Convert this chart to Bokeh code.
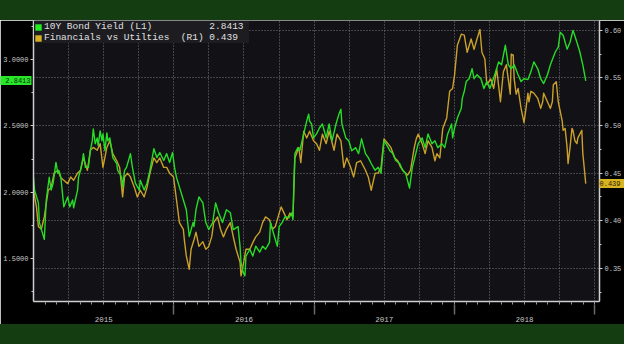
from bokeh.plotting import figure
from bokeh.layouts import column
from bokeh.models import (Range1d, LinearAxis, FixedTicker, NumeralTickFormatter, Div,
                          CustomJSTickFormatter, Grid, Legend, LegendItem)
from bokeh.embed import file_html
from bokeh.resources import INLINE

# ---------------- data (decimal-year dates) ----------------
yield_dates = [
    2015.000, 2015.007, 2015.035, 2015.042, 2015.077, 2015.091, 2015.112, 2015.126, 2015.140, 2015.160,
    2015.174, 2015.181, 2015.195, 2015.209, 2015.216, 2015.244, 2015.258, 2015.279, 2015.286, 2015.314,
    2015.321, 2015.335, 2015.349, 2015.356, 2015.370, 2015.391, 2015.405, 2015.419, 2015.426, 2015.440,
    2015.454, 2015.461, 2015.475, 2015.488, 2015.495, 2015.509, 2015.523, 2015.530, 2015.544, 2015.558,
    2015.565, 2015.593, 2015.600, 2015.614, 2015.628, 2015.635, 2015.649, 2015.663, 2015.691, 2015.705,
    2015.726, 2015.754, 2015.761, 2015.789, 2015.809, 2015.830, 2015.858, 2015.879, 2015.900, 2015.928,
    2015.949, 2015.970, 2015.991, 2016.005, 2016.019, 2016.040, 2016.068, 2016.089, 2016.110, 2016.137,
    2016.144, 2016.158, 2016.179, 2016.207, 2016.228, 2016.249, 2016.277, 2016.298, 2016.319, 2016.347,
    2016.375, 2016.403, 2016.424, 2016.458, 2016.472, 2016.479, 2016.493, 2016.507, 2016.514, 2016.542,
    2016.563, 2016.584, 2016.612, 2016.633, 2016.654, 2016.682, 2016.689, 2016.717, 2016.738, 2016.751,
    2016.772, 2016.793, 2016.821, 2016.842, 2016.849, 2016.856, 2016.863, 2016.884, 2016.898, 2016.926,
    2016.947, 2016.961, 2016.968, 2016.982, 2016.996, 2017.017, 2017.038, 2017.059, 2017.086, 2017.107,
    2017.128, 2017.156, 2017.177, 2017.191, 2017.198, 2017.226, 2017.247, 2017.268, 2017.296, 2017.317,
    2017.338, 2017.366, 2017.386, 2017.407, 2017.435, 2017.456, 2017.477, 2017.498, 2017.512, 2017.540,
    2017.561, 2017.582, 2017.610, 2017.631, 2017.652, 2017.680, 2017.700, 2017.721, 2017.742, 2017.770,
    2017.791, 2017.812, 2017.840, 2017.861, 2017.882, 2017.910, 2017.931, 2017.952, 2017.980, 2017.987,
    2018.001, 2018.021, 2018.049, 2018.056, 2018.070, 2018.084, 2018.105, 2018.126, 2018.140, 2018.161,
    2018.189, 2018.210, 2018.231, 2018.252, 2018.266, 2018.294, 2018.315, 2018.336, 2018.363, 2018.384,
    2018.405, 2018.426, 2018.454, 2018.475, 2018.496, 2018.524, 2018.545, 2018.566, 2018.594, 2018.615,
    2018.636, 2018.663, 2018.684, 2018.719, 2018.740, 2018.754, 2018.775, 2018.803, 2018.824, 2018.845,
    2018.873, 2018.894, 2018.915, 2018.936,
]
yield_values = [
    2.112, 2.015, 1.918, 1.769, 1.642, 1.940, 2.112, 2.015, 2.067, 2.224,
    2.142, 2.164, 2.112, 1.963, 1.888, 1.963, 1.888, 1.940, 1.881, 2.015,
    2.112, 2.164, 2.239, 2.291, 2.187, 2.187, 2.313, 2.388, 2.478, 2.366,
    2.410, 2.351, 2.463, 2.388, 2.440, 2.313, 2.448, 2.388, 2.410, 2.313,
    2.261, 2.216, 2.164, 2.142, 2.112, 2.037, 2.164, 2.187, 2.291, 2.187,
    2.067, 2.015, 2.090, 2.015, 2.067, 2.164, 2.328, 2.261, 2.299, 2.239,
    2.291, 2.224, 2.299, 2.187, 2.112, 2.037, 1.940, 1.866, 1.664, 1.769,
    1.739, 1.866, 1.963, 1.918, 1.769, 1.716, 1.769, 1.918, 1.843, 1.769,
    1.866, 1.843, 1.716, 1.739, 1.590, 1.470, 1.396, 1.366, 1.515, 1.567,
    1.515, 1.590, 1.545, 1.590, 1.567, 1.619, 1.769, 1.664, 1.590, 1.739,
    1.769, 1.813, 1.806, 1.843, 1.791, 2.067, 2.291, 2.336, 2.313, 2.440,
    2.537, 2.590, 2.537, 2.515, 2.410, 2.440, 2.485, 2.515, 2.410, 2.515,
    2.388, 2.515, 2.590, 2.627, 2.515, 2.410, 2.388, 2.313, 2.336, 2.291,
    2.403, 2.291, 2.261, 2.216, 2.164, 2.187, 2.142, 2.388, 2.366, 2.313,
    2.291, 2.239, 2.216, 2.164, 2.142, 2.030, 2.187, 2.276, 2.366, 2.410,
    2.336, 2.440, 2.366, 2.388, 2.336, 2.366, 2.336, 2.440, 2.515, 2.410,
    2.485, 2.560, 2.634, 2.709, 2.761, 2.836, 2.858, 2.933, 2.858, 2.888,
    2.858, 2.784, 2.836, 2.784, 2.821, 2.910, 2.985, 2.963, 3.112, 2.963,
    2.933, 2.963, 2.888, 2.836, 2.858, 2.851, 2.910, 2.985, 2.933, 2.858,
    2.821, 2.888, 2.963, 3.060, 3.097, 3.209, 3.187, 3.082, 3.134, 3.224,
    3.134, 3.060, 2.963, 2.8413,
]

ratio_dates = [
    2015.000, 2015.021, 2015.035, 2015.056, 2015.077, 2015.105, 2015.126, 2015.147, 2015.174, 2015.195,
    2015.216, 2015.244, 2015.265, 2015.286, 2015.314, 2015.335, 2015.356, 2015.384, 2015.405, 2015.426,
    2015.454, 2015.475, 2015.495, 2015.523, 2015.544, 2015.565, 2015.593, 2015.614, 2015.635, 2015.649,
    2015.670, 2015.691, 2015.719, 2015.740, 2015.761, 2015.789, 2015.809, 2015.830, 2015.858, 2015.879,
    2015.900, 2015.928, 2015.949, 2015.970, 2015.998, 2016.019, 2016.040, 2016.068, 2016.075, 2016.089,
    2016.110, 2016.123, 2016.144, 2016.158, 2016.179, 2016.207, 2016.228, 2016.249, 2016.270, 2016.284,
    2016.312, 2016.333, 2016.354, 2016.375, 2016.403, 2016.424, 2016.444, 2016.472, 2016.479, 2016.493,
    2016.514, 2016.542, 2016.563, 2016.584, 2016.612, 2016.633, 2016.654, 2016.682, 2016.703, 2016.724,
    2016.751, 2016.765, 2016.786, 2016.807, 2016.828, 2016.849, 2016.863, 2016.891, 2016.905, 2016.926,
    2016.947, 2016.968, 2016.996, 2017.017, 2017.038, 2017.059, 2017.086, 2017.107, 2017.142, 2017.163,
    2017.191, 2017.212, 2017.233, 2017.261, 2017.282, 2017.303, 2017.331, 2017.366, 2017.386, 2017.407,
    2017.435, 2017.456, 2017.477, 2017.498, 2017.526, 2017.547, 2017.575, 2017.596, 2017.617, 2017.645,
    2017.666, 2017.687, 2017.714, 2017.728, 2017.742, 2017.770, 2017.791, 2017.812, 2017.840, 2017.861,
    2017.875, 2017.896, 2017.917, 2017.945, 2017.966, 2017.987, 2018.001, 2018.021, 2018.049, 2018.070,
    2018.091, 2018.119, 2018.140, 2018.161, 2018.182, 2018.196, 2018.217, 2018.231, 2018.259, 2018.280,
    2018.301, 2018.328, 2018.349, 2018.370, 2018.398, 2018.405, 2018.419, 2018.426, 2018.440, 2018.454,
    2018.475, 2018.489, 2018.496, 2018.510, 2018.524, 2018.531, 2018.545, 2018.566, 2018.594, 2018.615,
    2018.629, 2018.636, 2018.663, 2018.684, 2018.698, 2018.705, 2018.726, 2018.740, 2018.768, 2018.775,
    2018.789, 2018.803, 2018.810, 2018.824, 2018.838, 2018.845, 2018.859, 2018.873, 2018.880, 2018.894,
    2018.908, 2018.915, 2018.936,
]
ratio_values = [
    0.432, 0.4145, 0.394, 0.391, 0.404, 0.432, 0.435, 0.450, 0.453, 0.445,
    0.4425, 0.439, 0.446, 0.4425, 0.450, 0.453, 0.466, 0.453, 0.474, 0.477,
    0.474, 0.481, 0.456, 0.477, 0.484, 0.4705, 0.463, 0.456, 0.425, 0.446,
    0.450, 0.446, 0.435, 0.425, 0.432, 0.425, 0.435, 0.450, 0.466, 0.461,
    0.466, 0.456, 0.456, 0.450, 0.446, 0.422, 0.398, 0.391, 0.380, 0.363,
    0.349, 0.370, 0.380, 0.388, 0.373, 0.378, 0.370, 0.373, 0.383, 0.398,
    0.404, 0.391, 0.383, 0.391, 0.398, 0.383, 0.370, 0.3565, 0.342, 0.352,
    0.370, 0.370, 0.377, 0.383, 0.388, 0.398, 0.404, 0.401, 0.391, 0.394,
    0.408, 0.4145, 0.408, 0.401, 0.408, 0.404, 0.466, 0.477, 0.461, 0.494,
    0.487, 0.494, 0.484, 0.481, 0.474, 0.491, 0.481, 0.494, 0.474, 0.491,
    0.484, 0.456, 0.466, 0.456, 0.446, 0.461, 0.463, 0.453, 0.446, 0.432,
    0.450, 0.450, 0.456, 0.486, 0.481, 0.477, 0.466, 0.463, 0.456, 0.451,
    0.448, 0.453, 0.477, 0.486, 0.491, 0.481, 0.4705, 0.484, 0.477, 0.463,
    0.4705, 0.466, 0.497, 0.508, 0.536, 0.539, 0.553, 0.5845, 0.596, 0.595,
    0.577, 0.591, 0.580, 0.591, 0.601, 0.577, 0.570, 0.543, 0.549, 0.539,
    0.560, 0.525, 0.5565, 0.564, 0.533, 0.575, 0.574, 0.549, 0.533, 0.539,
    0.518, 0.508, 0.503, 0.518, 0.534, 0.525, 0.536, 0.534, 0.5285, 0.518,
    0.525, 0.534, 0.525, 0.518, 0.525, 0.543, 0.546, 0.525, 0.505, 0.495,
    0.497, 0.477, 0.460, 0.477, 0.497, 0.495, 0.484, 0.481, 0.487, 0.491,
    0.495, 0.471, 0.439,
]

year_labels = ["2015", "2016", "2017", "2018"]
year_starts = [2015, 2016, 2017, 2018, 2019]
left_ticks = [1.5, 2.0, 2.5, 3.0]
left_minor = [1.25, 1.75, 2.25, 2.75, 3.25]
right_ticks = [0.35, 0.40, 0.45, 0.50, 0.55, 0.60]
right_minor = [0.325, 0.375, 0.425, 0.475, 0.525, 0.575]

GREEN = "#26dc26"
GOLD = "#caa12a"
AXIS = "#cfcfcf"
LABEL = "#c8c8c8"
BANNER = "#143d12"
MONO = "Liberation Mono"

# ---------------- figure ----------------
xr = Range1d(2015.0, 2019.034)
p = figure(width=624, height=304, output_backend="svg", toolbar_location=None,
           x_axis_type=None, y_axis_type=None,
           x_range=xr, y_range=Range1d(1.1716, 3.2985),
           min_border_left=31, min_border_right=24, min_border_top=0, min_border_bottom=19,
           background_fill_color="#111116", border_fill_color="black")
p.outline_line_color = None
p.extra_y_ranges = {"right": Range1d(0.3151, 0.6104)}


def style_y(ax, size="7px"):
    ax.axis_line_color = AXIS
    ax.axis_line_width = 1.5
    ax.major_tick_line_color = AXIS
    ax.minor_tick_line_color = AXIS
    ax.major_tick_out = 3
    ax.major_tick_in = 0
    ax.minor_tick_out = 2
    ax.minor_tick_in = 0
    ax.major_label_text_font = MONO
    ax.major_label_text_font_size = size
    ax.major_label_text_color = LABEL
    ax.major_label_standoff = 2


left_axis = LinearAxis(ticker=FixedTicker(ticks=left_ticks, minor_ticks=left_minor),
                       formatter=NumeralTickFormatter(format="0.0000"))
style_y(left_axis)
p.add_layout(left_axis, "left")

right_axis = LinearAxis(y_range_name="right",
                        ticker=FixedTicker(ticks=right_ticks, minor_ticks=right_minor),
                        formatter=NumeralTickFormatter(format="0.00"))
style_y(right_axis)
p.add_layout(right_axis, "right")


# last-value tags: an outer axis with a single tick whose inward tick is a thick
# coloured bar and whose label is pulled back over it
def tag_axis(value, fmt, bar_color, text_color, bar_len, pull, range_name="default"):
    ax = LinearAxis(y_range_name=range_name,
                    ticker=FixedTicker(ticks=[value], minor_ticks=[]),
                    formatter=NumeralTickFormatter(format=fmt))
    ax.axis_line_color = None
    ax.minor_tick_line_color = None
    ax.major_tick_line_color = bar_color
    ax.major_tick_line_width = 9
    ax.major_tick_out = 0
    ax.major_tick_in = bar_len
    ax.major_label_standoff = -pull
    ax.major_label_text_font = MONO
    ax.major_label_text_font_size = "7px"
    ax.major_label_text_color = text_color
    return ax


p.add_layout(tag_axis(yield_values[-1], "0.0000", "#2ae62a", "#06300a", 31, 30), "left")
p.add_layout(tag_axis(ratio_values[-1], "0.000", "#d8b420", "#2a2000", 25, 25, "right"), "right")

# monthly tick axis
month_ticks = [2015 + m / 12 for m in range(1, 49)]
month_axis = LinearAxis(ticker=FixedTicker(ticks=month_ticks),
                        formatter=CustomJSTickFormatter(code="return ''"))
month_axis.axis_line_color = AXIS
month_axis.axis_line_width = 1.5
month_axis.major_tick_line_color = "#9a9a9a"
month_axis.major_tick_out = 3
month_axis.major_tick_in = 0
month_axis.minor_tick_line_color = None
month_axis.major_label_text_font_size = "1px"
month_axis.major_label_standoff = 4
p.add_layout(month_axis, "below")

# year label axis with separators
mid_years = [y + 0.5 for y in year_starts[:-1]]
year_axis = LinearAxis(ticker=FixedTicker(ticks=mid_years, minor_ticks=year_starts[1:]),
                       formatter=CustomJSTickFormatter(args=dict(labels=year_labels),
                                                      code="return labels[index]"))
year_axis.axis_line_color = None
year_axis.major_tick_line_color = None
year_axis.major_tick_out = 0
year_axis.major_tick_in = 0
year_axis.minor_tick_line_color = "#6a6a6a"
year_axis.minor_tick_line_width = 1.5
year_axis.minor_tick_out = 10
year_axis.minor_tick_in = 0
year_axis.major_label_text_font = MONO
year_axis.major_label_text_font_size = "7.5px"
year_axis.major_label_text_color = LABEL
year_axis.major_label_standoff = 2
p.add_layout(year_axis, "below")

# grids
quarters = [2015 + q / 4 for q in range(1, 17)]
p.add_layout(Grid(dimension=0, ticker=FixedTicker(ticks=quarters),
                  grid_line_color="#7a7a7a", grid_line_dash="1 2", grid_line_width=1))
p.add_layout(Grid(dimension=1, y_range_name="right", ticker=FixedTicker(ticks=right_ticks),
                  grid_line_color="#7a7a7a", grid_line_dash="1 2", grid_line_width=1))

# series
p.line(ratio_dates, ratio_values, y_range_name="right", line_color=GOLD, line_width=1.4,
       line_join="round")
p.line(yield_dates, yield_values, line_color=GREEN, line_width=1.4, line_join="round")

# legend (square swatches from empty quads)
nan = float("nan")
sw_g = p.quad(left=[nan], right=[nan], top=[nan], bottom=[nan], fill_color="#22ee22",
              line_color=None)
sw_y = p.quad(left=[nan], right=[nan], top=[nan], bottom=[nan], fill_color="#d6b020",
              line_color=None)
NB = "\u00a0"
lab1 = "10Y" + NB + "Bond" + NB + "Yield" + NB + "(L1)" + NB * 10 + f"{yield_values[-1]:.4f}"
lab2 = ("Financials" + NB + "vs" + NB + "Utilties" + NB * 2 + "(R1)" + NB +
        f"{ratio_values[-1]:.3f}" + NB * 2)
legend = Legend(items=[LegendItem(label=lab1, renderers=[sw_g]),
                       LegendItem(label=lab2, renderers=[sw_y])],
                location="top_left", margin=1, padding=6, spacing=0,
                glyph_width=8, glyph_height=8, label_height=11, label_standoff=2,
                label_text_font=MONO, label_text_font_size="9.5px",
                label_text_color="#e0e0e0", background_fill_color="#1c1c21",
                background_fill_alpha=1.0, border_line_color=None)
p.add_layout(legend)

top_banner = Div(text="", width=624, height=20, margin=0,
                 styles={"background-color": BANNER})
bottom_banner = Div(text="", width=624, height=20, margin=0,
                    styles={"background-color": BANNER})
page = column(top_banner, p, bottom_banner, spacing=0, margin=0)

open("out.html", "w").write(file_html(page, INLINE))
